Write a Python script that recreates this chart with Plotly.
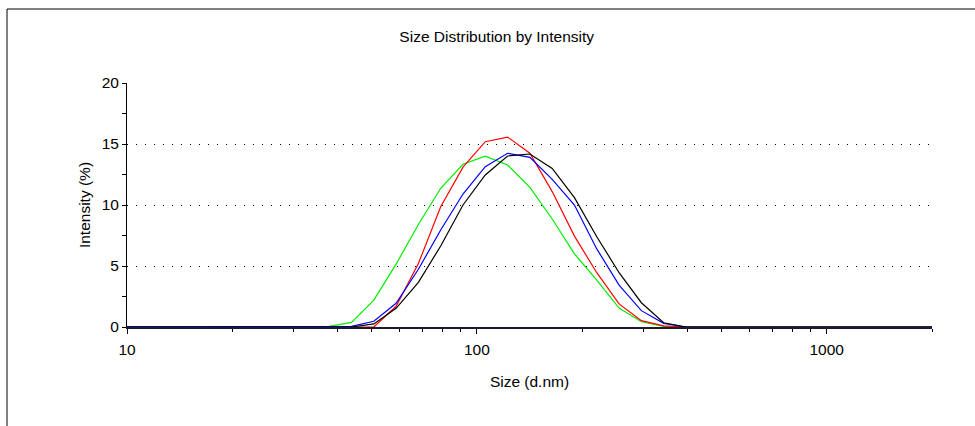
import plotly.graph_objects as go

# Size bins (d.nm)
sizes = [8.721, 10.10, 11.70, 13.54, 15.69, 18.17, 21.04, 24.36, 28.21, 32.67,
         37.84, 43.82, 50.75, 58.77, 68.06, 78.82, 91.28, 105.7, 122.4, 141.8,
         164.2, 190.1, 220.2, 255.0, 295.3, 342.0, 396.1, 458.7, 531.2, 615.1,
         712.4, 825.0, 955.4, 1106, 1281, 1484, 1718, 1990, 2305]

red = [0, 0, 0, 0, 0, 0, 0, 0, 0, 0,
       0, 0, 0, 1.7, 5.2, 9.86, 13.1, 15.19, 15.57, 14.24,
       11.1, 7.45, 4.45, 1.89, 0.52, 0.1, 0, 0, 0, 0,
       0, 0, 0, 0, 0, 0, 0, 0, 0]

green = [0, 0, 0, 0, 0, 0, 0, 0, 0, 0,
         0.05, 0.38, 2.2, 5.15, 8.4, 11.37, 13.34, 14.0, 13.28, 11.45,
         8.85, 6.0, 3.85, 1.55, 0.43, 0.05, 0, 0, 0, 0,
         0, 0, 0, 0, 0, 0, 0, 0, 0]

blue = [0, 0, 0, 0, 0, 0, 0, 0, 0, 0,
        0, 0.05, 0.47, 1.94, 4.73, 7.95, 10.9, 13.14, 14.24, 13.9,
        12.1, 10.0, 6.4, 3.44, 1.34, 0.3, 0, 0, 0, 0,
        0, 0, 0, 0, 0, 0, 0, 0, 0]

black = [0, 0, 0, 0, 0, 0, 0, 0, 0, 0,
         0, 0, 0.25, 1.53, 3.66, 6.64, 10.0, 12.46, 14.02, 14.18,
         13.0, 10.6, 7.4, 4.45, 1.99, 0.35, 0, 0, 0, 0,
         0, 0, 0, 0, 0, 0, 0, 0, 0]

x_major = [10, 100, 1000]
x_major_text = ["10", "100", "1000"]
x_minor = [20, 30, 40, 50, 60, 70, 80, 90, 200, 300, 400, 500, 600, 700, 800, 900, 2000]
y_ticks = [0, 5, 10, 15, 20]

FONT = "Liberation Sans, Arial, sans-serif"
FS = 15.5

fig = go.Figure()
for ys, col in [(green, "#00ee00"), (red, "#ff0000"), (blue, "#0000ff"), (black, "#000000")]:
    fig.add_trace(go.Scatter(x=sizes, y=ys, mode="lines",
                             line=dict(color=col, width=1.2), showlegend=False,
                             hoverinfo="skip"))

L, R, T, B = 127, 43, 83, 99
W, H = 975, 426
pw = W - L - R
ph = H - T - B

def px_x(p):
    return (p - L) / pw

def px_y(p):
    return (H - B - p) / ph

fig.update_layout(
    width=W, height=H,
    margin=dict(l=L, r=R, t=T, b=B, autoexpand=False),
    paper_bgcolor="white", plot_bgcolor="white",
    font=dict(family=FONT, size=FS, color="#000000"),
    title=dict(text="Size Distribution by Intensity", x=496.7 / W, xref="container",
               xanchor="center", y=1 - 37 / H, yref="container", yanchor="middle",
               font=dict(family=FONT, size=FS, color="#000000")),
    xaxis=dict(type="log", range=[1, 3.301], tickmode="array",
               tickvals=x_major, ticktext=x_major_text,
               ticks="outside", ticklen=5, tickwidth=1, tickcolor="#000000",
               minor=dict(tickmode="array", tickvals=x_minor, ticks="outside",
                          ticklen=3, tickwidth=1, tickcolor="#000000", showgrid=False),
               showgrid=False, zeroline=False,
               showline=True, linecolor="#1c1c2c", linewidth=2,
               ticklabelstandoff=2,
               title=dict(text="Size (d.nm)", standoff=20, font=dict(size=FS))),
    yaxis=dict(range=[0, 20], tickmode="array", tickvals=y_ticks,
               ticks="outside", ticklen=4, tickwidth=1, tickcolor="#000000",
               minor=dict(dtick=2.5, tick0=0, ticks="outside", ticklen=4,
                          tickwidth=1, tickcolor="#000000", showgrid=False),
               showgrid=True, gridcolor="#000000", gridwidth=1, griddash="1px,8px",
               zeroline=False, showline=True, linecolor="#000000", linewidth=1,
               title=dict(text="Intensity (%)", standoff=7, font=dict(size=FS))),
    shapes=[
        dict(type="line", xref="paper", yref="paper",
             x0=px_x(7), x1=px_x(W + 5), y0=px_y(9), y1=px_y(9),
             line=dict(color="#000000", width=1)),
        dict(type="line", xref="paper", yref="paper",
             x0=px_x(7), x1=px_x(7), y0=px_y(9), y1=px_y(H + 5),
             line=dict(color="#000000", width=1)),
    ],
)

fig.write_html(
    "out.html",
    config={"displayModeBar": False},
    post_script="document.body.style.margin='0';document.body.style.overflow='hidden';",
)
